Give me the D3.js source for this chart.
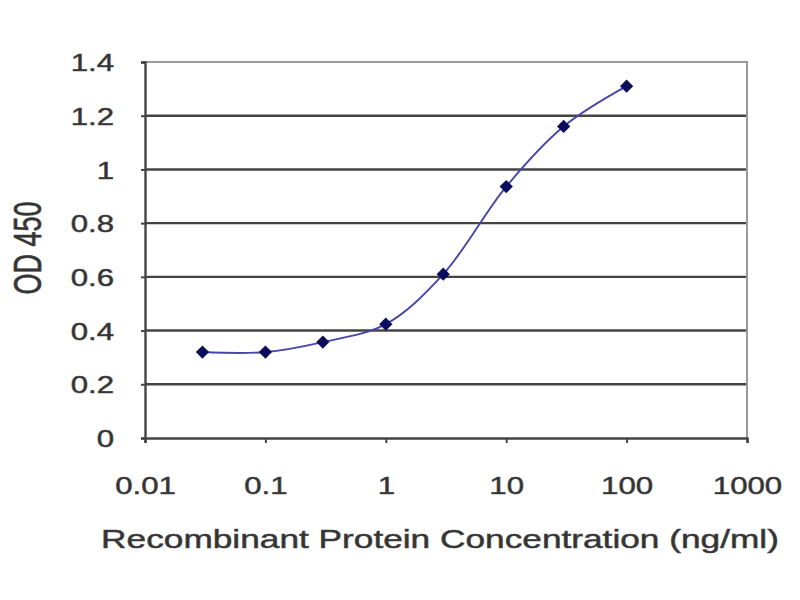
<!DOCTYPE html>
<html>
<head>
<meta charset="utf-8">
<script src="https://cdn.jsdelivr.net/npm/d3@7"></script>
<style>
  body { margin: 0; background: #fff; }
  svg text { font-family: "Liberation Sans", Arial, sans-serif; fill: #333; stroke: #444; stroke-width: 0.5px; }
</style>
</head>
<body>
<svg id="chart" width="800" height="600"></svg>
<script>
// values
const concentration = [0.03, 0.1, 0.3, 1, 3, 10, 30, 100];
const od450 = [0.32, 0.32, 0.357, 0.424, 0.61, 0.936, 1.16, 1.31];
const xTicks = [0.01, 0.1, 1, 10, 100, 1000];
const xTickLabels = ["0.01", "0.1", "1", "10", "100", "1000"];
const yTicks = [0, 0.2, 0.4, 0.6, 0.8, 1, 1.2, 1.4];
const yTickLabels = ["0", "0.2", "0.4", "0.6", "0.8", "1", "1.2", "1.4"];

const points = concentration.map((c, i) => ({ c: c, v: od450[i] }));

const plotL = 145, plotR = 747, plotT = 62, plotB = 438;
const stretch = 1.3; // the source picture is widened horizontally

const svg = d3.select("#chart");

const x = d3.scaleLog().domain([0.01, 1000]).range([plotL, plotR]);
const y = d3.scaleLinear().domain([0, 1.4]).range([plotB, plotT]);

// gridlines
svg.append("g")
  .selectAll("line")
  .data(yTicks.filter(t => t > 0 && t < 1.4))
  .enter().append("line")
  .attr("x1", plotL).attr("x2", plotR)
  .attr("y1", d => y(d)).attr("y2", d => y(d))
  .attr("stroke", "#444")
  .attr("stroke-width", 2.4);

// top and right border (lighter)
svg.append("path")
  .attr("d", `M${plotL},${y(1.4)}H${plotR}V${plotB}`)
  .attr("fill", "none")
  .attr("stroke", "#9a9a9a")
  .attr("stroke-width", 2);

// y axis
const yAxis = svg.append("g")
  .attr("transform", `translate(${plotL},0)`)
  .call(d3.axisLeft(y).tickValues(yTicks)
    .tickFormat((d, i) => yTickLabels[i])
    .tickSize(4).tickPadding(0));
yAxis.select(".domain").attr("stroke", "#444").attr("stroke-width", 2.4);
yAxis.selectAll(".tick line").attr("stroke", "#444").attr("stroke-width", 2);
yAxis.selectAll(".tick text")
  .attr("x", -31 / stretch)
  .attr("transform", `scale(${stretch},1)`)
  .attr("font-size", 24)
  .attr("dy", "0.36em")
  .attr("fill", "#333");

// x axis
const xAxis = svg.append("g")
  .attr("transform", `translate(0,${plotB})`)
  .call(d3.axisBottom(x).tickValues(xTicks)
    .tickFormat((d, i) => xTickLabels[i])
    .tickSize(5).tickPadding(0));
xAxis.select(".domain").attr("stroke", "#444").attr("stroke-width", 2.4);
xAxis.selectAll(".tick line").attr("stroke", "#444").attr("stroke-width", 2);
xAxis.selectAll(".tick text")
  .attr("transform", `scale(${stretch},1)`)
  .attr("x", 0)
  .attr("y", 56)
  .attr("dy", 0)
  .attr("font-size", 24)
  .attr("fill", "#333");

// axis titles
svg.append("text")
  .attr("transform", `translate(440,548) scale(${stretch * 1.085},1)`)
  .attr("text-anchor", "middle")
  .attr("font-size", 25)
  .text("Recombinant Protein Concentration (ng/ml)");

svg.append("text")
  .attr("transform", `translate(41,248) scale(${stretch * 1.1},1) rotate(-90)`)
  .attr("text-anchor", "middle")
  .attr("font-size", 27)
  .text("OD 450");

// smoothed line
const line = d3.line()
  .x(d => x(d.c))
  .y(d => y(d.v))
  .curve(d3.curveCatmullRom.alpha(0.5));

svg.append("path")
  .datum(points)
  .attr("d", line)
  .attr("fill", "none")
  .attr("stroke", "#4646ac")
  .attr("stroke-width", 1.9);

// diamond markers
svg.append("g")
  .selectAll("path")
  .data(points)
  .enter().append("path")
  .attr("d", d3.symbol(d3.symbolSquare, 88))
  .attr("transform", d => `translate(${x(d.c)},${y(d.v)}) rotate(45)`)
  .attr("fill", "#0c0c5c");
</script>
</body>
</html>
